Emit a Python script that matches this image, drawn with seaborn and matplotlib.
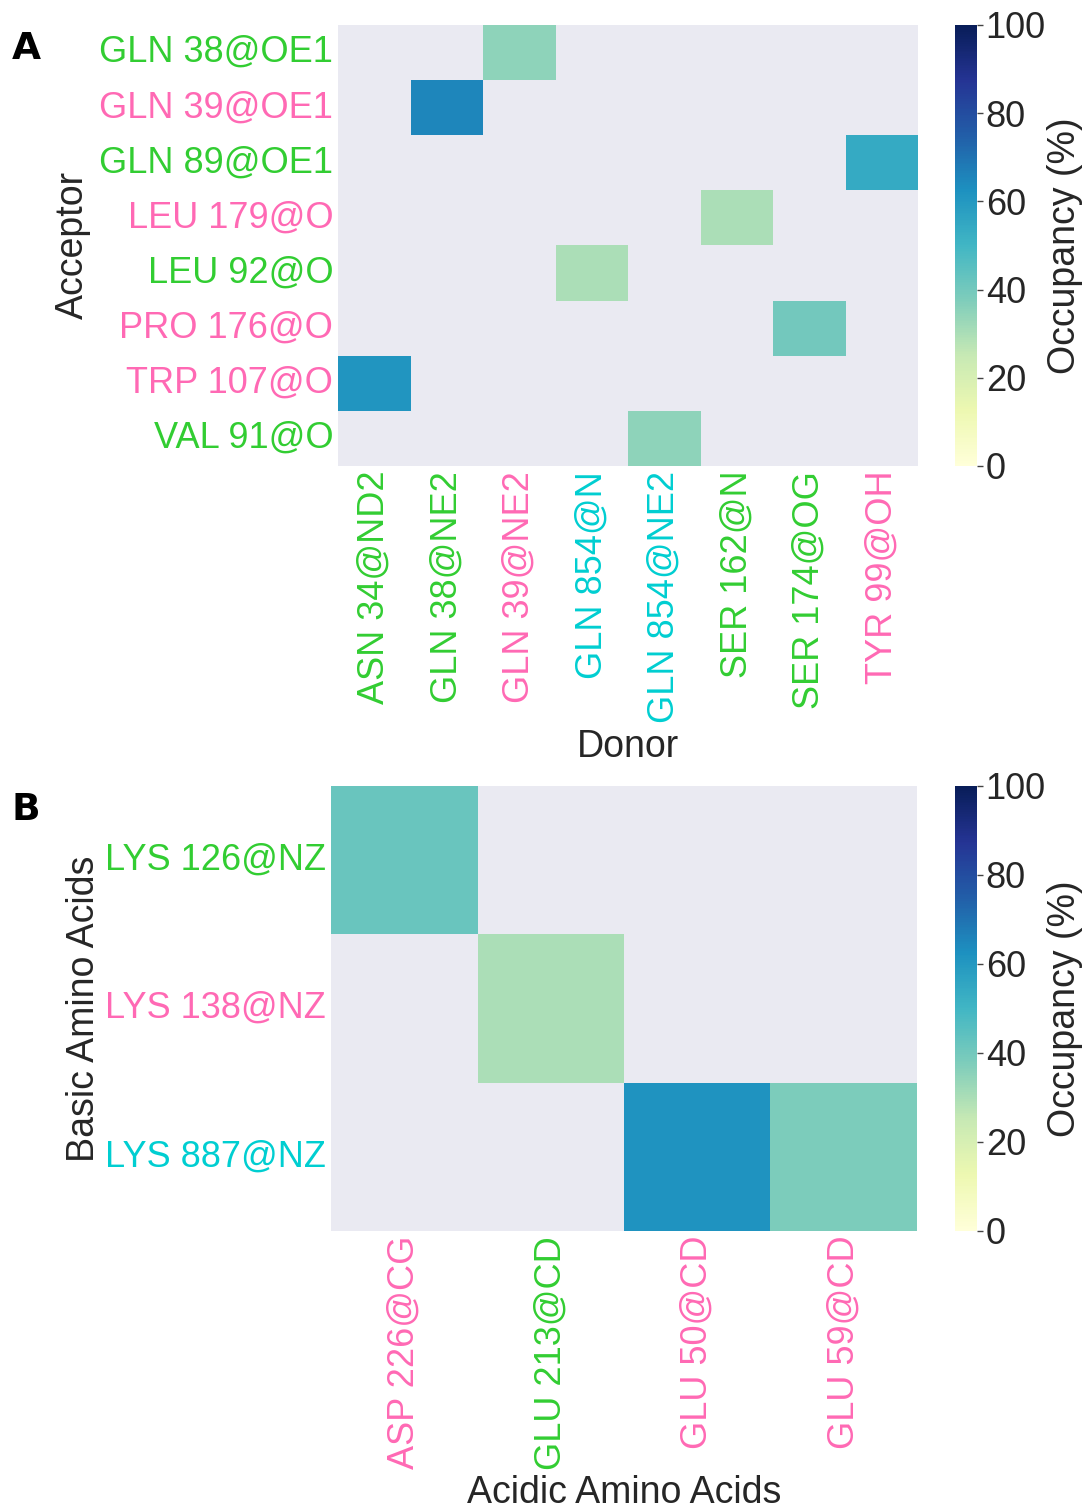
import numpy as np
import pandas as pd
import matplotlib
matplotlib.use("Agg")
import matplotlib.pyplot as plt
import seaborn as sns

# ---------------- data ----------------
acceptors_a = ["GLN 38@OE1", "GLN 39@OE1", "GLN 89@OE1", "LEU 179@O",
               "LEU 92@O", "PRO 176@O", "TRP 107@O", "VAL 91@O"]
acceptor_colors_a = ["g", "p", "g", "p", "g", "p", "p", "g"]
donors_a = ["ASN 34@ND2", "GLN 38@NE2", "GLN 39@NE2", "GLN 854@N",
            "GLN 854@NE2", "SER 162@N", "SER 174@OG", "TYR 99@OH"]
donor_colors_a = ["g", "g", "p", "c", "c", "g", "g", "p"]
# (acceptor, donor, occupancy %)
pairs_acceptor = ["GLN 38@OE1", "GLN 39@OE1", "GLN 89@OE1", "LEU 179@O",
                  "LEU 92@O", "PRO 176@O", "TRP 107@O", "VAL 91@O"]
pairs_donor = ["GLN 39@NE2", "GLN 38@NE2", "TYR 99@OH", "SER 162@N",
               "GLN 854@N", "SER 174@OG", "ASN 34@ND2", "GLN 854@NE2"]
pairs_occupancy = [35, 65, 54, 30, 30, 40, 61, 35]

basic_b = ["LYS 126@NZ", "LYS 138@NZ", "LYS 887@NZ"]
basic_colors_b = ["g", "p", "c"]
acidic_b = ["ASP 226@CG", "GLU 213@CD", "GLU 50@CD", "GLU 59@CD"]
acidic_colors_b = ["p", "g", "p", "p"]
salt_basic = ["LYS 126@NZ", "LYS 138@NZ", "LYS 887@NZ", "LYS 887@NZ"]
salt_acidic = ["ASP 226@CG", "GLU 213@CD", "GLU 50@CD", "GLU 59@CD"]
salt_occupancy = [42, 30, 62, 38]

color_map = {"g": "#32CD32", "p": "#FF69B4", "c": "#00CED1"}

# ---------------- style ----------------
sns.set_style("darkgrid")
plt.rcParams["font.family"] = ["Liberation Sans", "DejaVu Sans"]
plt.rcParams["text.color"] = "#262626"

fig = plt.figure(figsize=(10.89, 15.10), dpi=100)

FS = 26


def build(rows, cols, r_list, c_list, v_list):
    df = pd.DataFrame(np.nan, index=rows, columns=cols)
    for r, c, v in zip(r_list, c_list, v_list):
        df.loc[r, c] = v
    return df


def draw(ax, cax, df, rcolors, ccolors, xlabel, ylabel):
    sns.heatmap(df, ax=ax, cbar_ax=cax, cmap="YlGnBu", vmin=0, vmax=100,
                linewidths=0, cbar_kws={"ticks": [0, 20, 40, 60, 80, 100]})
    ax.grid(False)
    ax.set_facecolor("#EAEAF2")
    ax.set_xlabel(xlabel, fontsize=FS + 1)
    ax.set_ylabel(ylabel, fontsize=FS + 1)
    ax.tick_params(axis="both", length=0, labelsize=FS)
    for t, k in zip(ax.get_yticklabels(), rcolors):
        t.set_color(color_map[k])
        t.set_rotation(0)
    for t, k in zip(ax.get_xticklabels(), ccolors):
        t.set_color(color_map[k])
        t.set_rotation(90)
    cb = ax.collections[0].colorbar
    cb.outline.set_visible(False)
    cax.tick_params(labelsize=FS, length=4, width=1, color="#444444",
                    labelcolor="#262626", pad=2)
    cb.set_label("Occupancy (%)", fontsize=FS + 1, labelpad=1)


# Panel A
axA = fig.add_axes([0.3104, 0.6914, 0.5326, 0.2921])
caxA = fig.add_axes([0.877, 0.6914, 0.0205, 0.2921])
dfA = build(acceptors_a, donors_a, pairs_acceptor, pairs_donor, pairs_occupancy)
draw(axA, caxA, dfA, acceptor_colors_a, donor_colors_a, "Donor", "Acceptor")
axA.yaxis.labelpad = 6

# Panel B
axB = fig.add_axes([0.304, 0.1848, 0.538, 0.2947])
caxB = fig.add_axes([0.877, 0.1848, 0.0205, 0.2947])
dfB = build(basic_b, acidic_b, salt_basic, salt_acidic, salt_occupancy)
draw(axB, caxB, dfB, basic_colors_b, acidic_colors_b,
     "Acidic Amino Acids", "Basic Amino Acids")
axB.yaxis.labelpad = 2

fig.text(0.011, 0.961, "A", fontsize=27, fontweight="bold", color="black",
         family=["DejaVu Sans"])
fig.text(0.011, 0.457, "B", fontsize=27, fontweight="bold", color="black",
         family=["DejaVu Sans"])

fig.savefig("out.png", dpi=100, facecolor="white")
